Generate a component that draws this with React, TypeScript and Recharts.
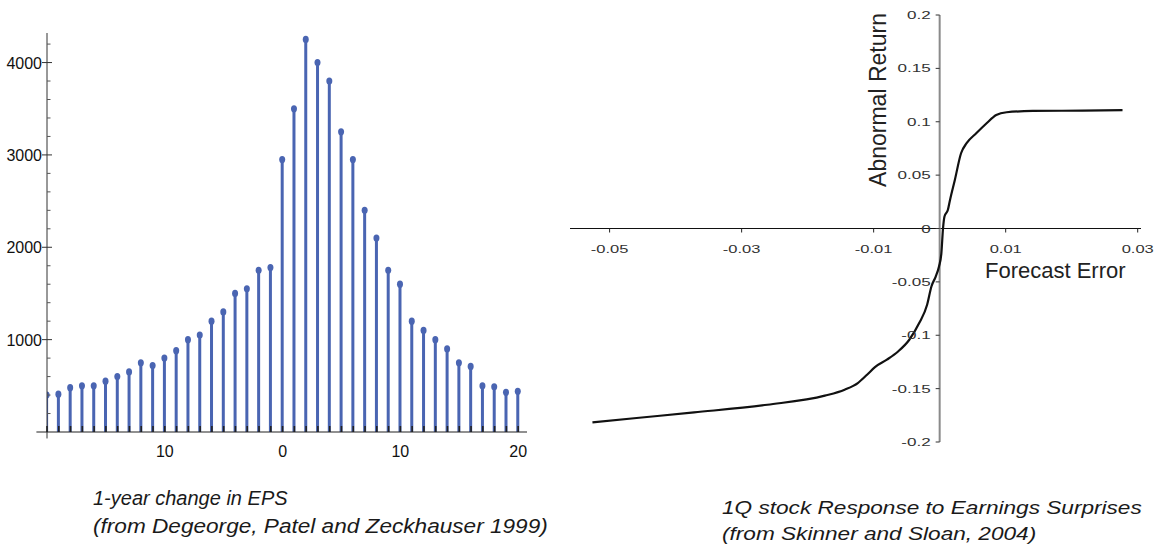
import { ComposedChart, Bar, XAxis, YAxis, ReferenceLine, LineChart, Line } from 'recharts';

// left panel: distribution of 1-year change in EPS
const epsChange = [
  -20, -19, -18, -17, -16, -15, -14, -13, -12, -11, -10, -9, -8, -7, -6, -5, -4, -3, -2, -1,
  0, 1, 2, 3, 4, 5, 6, 7, 8, 9, 10, 11, 12, 13, 14, 15, 16, 17, 18, 19, 20,
];
const epsCount = [
  400, 410, 480, 500, 500, 550, 600, 650, 750, 720, 800, 880, 1000, 1050, 1200, 1300, 1500, 1550, 1750, 1780,
  2950, 3500, 4250, 4000, 3800, 3250, 2950, 2400, 2100, 1750, 1600, 1200, 1100, 1000, 900, 750, 710, 500, 490, 430, 440,
];
const epsLabeledTicks = [-10, 0, 10, 20];
const epsYTicks = [200, 400, 600, 800, 1000, 1200, 1400, 1600, 1800, 2000, 2200, 2400, 2600, 2800, 3000, 3200, 3400, 3600, 3800, 4000, 4200];

// right panel: abnormal return vs forecast error
const forecastError = [
  -0.0526, -0.0459, -0.0372, -0.0261, -0.0174, -0.0144, -0.0124, -0.011, -0.0098, -0.008, -0.0063, -0.0046,
  -0.0031, -0.0019, -0.00125, -0.0006, -0.0001, 0.00026, 0.0005, 0.00073, 0.00125, 0.00157, 0.0023, 0.00324,
  0.00408, 0.00554, 0.00711, 0.00857, 0.01014, 0.01411, 0.02164, 0.0277,
];
const abnormalReturn = [
  -0.1816, -0.1775, -0.1723, -0.1651, -0.1566, -0.151, -0.1448, -0.137, -0.1298, -0.1229, -0.1152, -0.1042,
  -0.0886, -0.0715, -0.0543, -0.045, -0.0356, -0.0231, -0.0006, 0.0112, 0.0175, 0.0268, 0.0455, 0.0705,
  0.0799, 0.0892, 0.0986, 0.1064, 0.1089, 0.1101, 0.1104, 0.1108,
];
const errTicks = [-0.05, -0.03, -0.01, 0.01, 0.03];
const retTicks = [-0.2, -0.15, -0.1, -0.05, 0, 0.05, 0.1, 0.15, 0.2];

const FONT = '"Liberation Sans", Arial, sans-serif';
const STEM = '#4a65b2';

const epsData = epsChange.map((x, i) => ({ x, n: epsCount[i] }));
const retData = forecastError.map((x, i) => ({ x, r: abnormalReturn[i] }));

const R_W = 600;
const R_H = 470;
const R_M = { top: 15, right: 19, bottom: 0, left: 0 };
const R_YAXIS_W = 10;
const R_XAXIS_H = 28;
const RX_MIN = -0.056;
const RX_MAX = 0.0305;
const R_PLOT_W = R_W - R_M.left - R_M.right - R_YAXIS_W;
const R_PLOT_H = R_H - R_M.top - R_M.bottom - R_XAXIS_H;
const R_ZERO_X = (R_PLOT_W * (0 - RX_MIN)) / (RX_MAX - RX_MIN);

function Stem(props: any) {
  const { x, y, width, height } = props;
  if (height == null || isNaN(y)) return null;
  return (
    <g>
      <rect x={x} y={y} width={width} height={height} fill={STEM} />
      <ellipse cx={x + width / 2} cy={y} rx={3} ry={3.6} fill={STEM} />
    </g>
  );
}

function EpsYTick({ x, y, payload }: any) {
  const v = payload.value;
  if (v % 1000 !== 0) {
    return <line x1={x} x2={x + 3.5} y1={y} y2={y} stroke="#555" strokeWidth={1} />;
  }
  return (
    <g>
      <line x1={x - 5} x2={x + 5} y1={y} y2={y} stroke="#333" strokeWidth={1} />
      <text x={x - 5} y={y} dy={6} textAnchor="end" fontSize={16} fill="#111" fontFamily={FONT}>
        {v}
      </text>
    </g>
  );
}

function EpsXTick({ x, y, payload }: any) {
  const v = payload.value;
  return (
    <g>
      <line x1={x} x2={x} y1={y} y2={y - 6} stroke="#222" strokeWidth={1.6} />
      {epsLabeledTicks.includes(v) && (
        <text x={x} y={y + 25} textAnchor="middle" fontSize={16} fill="#111" fontFamily={FONT}>
          {Math.abs(v)}
        </text>
      )}
    </g>
  );
}

function ErrXTick({ x, y, payload }: any) {
  const zy = y - R_PLOT_H / 2;
  return (
    <g>
      <line x1={x} x2={x} y1={zy} y2={zy + 4} stroke="#222" strokeWidth={1} />
      <text transform={`translate(${x},${zy + 24}) scale(1.5,1)`} textAnchor="middle" fontSize={11} fill="#333" fontFamily={FONT}>
        {payload.value}
      </text>
    </g>
  );
}

function RetYTick({ x, y, payload }: any) {
  const zx = x + R_ZERO_X;
  return (
    <g>
      <line x1={zx - 4} x2={zx} y1={y} y2={y} stroke="#333" strokeWidth={1} />
      <text transform={`translate(${zx - 9},${y + 4}) scale(1.55,1)`} textAnchor="end" fontSize={11} fill="#333" fontFamily={FONT}>
        {payload.value}
      </text>
    </g>
  );
}

export default function App() {
  return (
    <div style={{ position: 'absolute', left: 0, top: 0, width: 1160, height: 544, background: '#fff', fontFamily: FONT }}>
      <div style={{ position: 'absolute', left: 0, top: 0 }}>
        <ComposedChart width={560} height={470} data={epsData} margin={{ top: 33, right: 33, bottom: 8, left: 7 }}>
          <XAxis
            dataKey="x"
            type="number"
            domain={[-20, 20.75]}
            ticks={epsChange}
            interval={0}
            height={30}
            axisLine={false}
            tickLine={false}
            tickSize={0}
            tickMargin={0}
            tick={<EpsXTick />}
            allowDataOverflow
          />
          <YAxis
            type="number"
            domain={[0, 4320]}
            ticks={epsYTicks}
            interval={0}
            width={40}
            axisLine={{ stroke: '#333', strokeWidth: 1 }}
            tickLine={false}
            tickSize={0}
            tickMargin={0}
            tick={<EpsYTick />}
            allowDataOverflow
          />
          <ReferenceLine
            segment={[{ x: -20.9, y: 0 }, { x: 20.75, y: 0 }]}
            stroke="#222"
            strokeWidth={1.2}
            ifOverflow="visible"
          />
          <ReferenceLine
            segment={[{ x: -20, y: -70 }, { x: -20, y: 0 }]}
            stroke="#333"
            strokeWidth={1}
            ifOverflow="visible"
          />
          <Bar dataKey="n" barSize={3} shape={<Stem />} isAnimationActive={false} />
        </ComposedChart>
      </div>

      <div style={{ position: 'absolute', left: 560, top: 0 }}>
        <LineChart width={R_W} height={R_H} data={retData} margin={R_M}>
          <XAxis
            dataKey="x"
            type="number"
            domain={[RX_MIN, RX_MAX]}
            ticks={errTicks}
            interval={0}
            height={R_XAXIS_H}
            axisLine={false}
            tickLine={false}
            tickSize={0}
            tickMargin={0}
            tick={<ErrXTick />}
            allowDataOverflow
          />
          <YAxis
            type="number"
            domain={[-0.2, 0.2]}
            ticks={retTicks}
            interval={0}
            width={R_YAXIS_W}
            axisLine={false}
            tickLine={false}
            tickSize={0}
            tickMargin={0}
            tick={<RetYTick />}
            allowDataOverflow
          />
          <ReferenceLine y={0} stroke="#111" strokeWidth={1.2} />
          <ReferenceLine x={0} stroke="#8a8a8a" strokeWidth={2} />
          <Line dataKey="r" type="monotone" stroke="#111" strokeWidth={2.2} dot={false} isAnimationActive={false} />
        </LineChart>
      </div>

      <div
        style={{
          position: 'absolute',
          left: 778,
          top: 87,
          width: 200,
          height: 26,
          lineHeight: '26px',
          textAlign: 'center',
          fontSize: 23,
          color: '#222',
          transform: 'rotate(-90deg)',
          whiteSpace: 'nowrap',
        }}
      >
        Abnormal Return
      </div>
      <div style={{ position: 'absolute', left: 985, top: 260, fontSize: 22, lineHeight: 1, color: '#222', whiteSpace: 'nowrap' }}>
        Forecast Error
      </div>

      <div style={{ position: 'absolute', left: 93, top: 484, fontSize: 20, lineHeight: '28px', fontStyle: 'italic', color: '#1a1a1a', whiteSpace: 'nowrap' }}>
        <div>1-year change in EPS</div>
        <div style={{ transform: 'scaleX(1.13)', transformOrigin: 'left center' }}>(from Degeorge, Patel and Zeckhauser 1999)</div>
      </div>
      <div
        style={{
          position: 'absolute',
          left: 722,
          top: 495,
          fontSize: 19,
          lineHeight: '26px',
          fontStyle: 'italic',
          color: '#1a1a1a',
          whiteSpace: 'nowrap',
          transform: 'scaleX(1.19)',
          transformOrigin: 'left center',
        }}
      >
        <div>1Q stock Response to Earnings Surprises</div>
        <div>(from Skinner and Sloan, 2004)</div>
      </div>
    </div>
  );
}
